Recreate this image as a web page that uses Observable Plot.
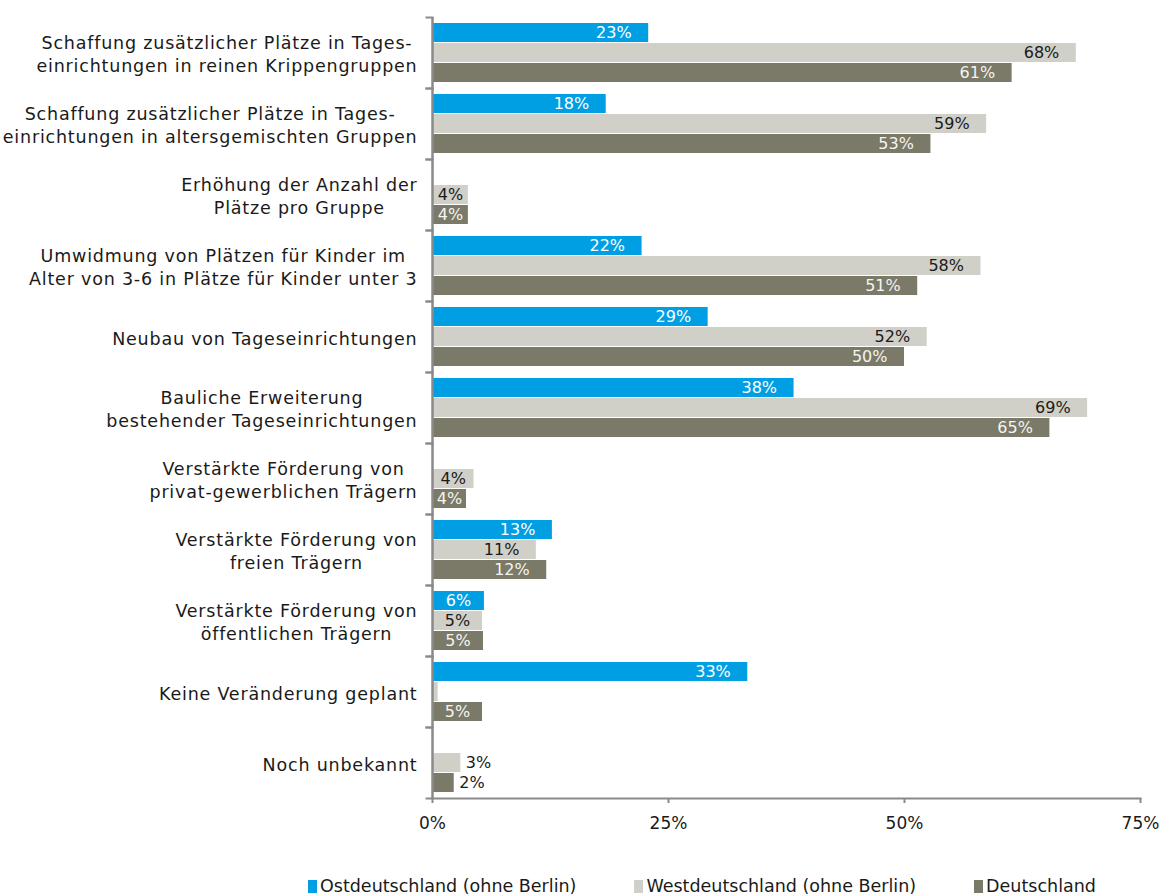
<!DOCTYPE html>
<html>
<head>
<meta charset="utf-8">
<script src="https://cdn.jsdelivr.net/npm/d3@7"></script>
<script src="https://cdn.jsdelivr.net/npm/@observablehq/plot@0.6"></script>
<style>
  body { margin: 0; background: #fff; font-family: "DejaVu Sans", sans-serif; }
  #chart svg g[aria-label^="fy-axis"] text { letter-spacing: 0.8px; }
  .legend { display: flex; gap: 58px; padding-left: 308px; margin-top: 26px; line-height: 20px; font-size: 17.5px; color: #1a1a1a; }
  .legend span.item { display: inline-flex; align-items: center; }
  .legend span.sw { display: inline-block; width: 9px; height: 13px; margin-right: 3px; }
</style>
</head>
<body>
<div id="chart"></div>
<div class="legend" id="legend"></div>
<script>
const categories = [
  "Schaffung zusätzlicher Plätze in Tages-\neinrichtungen in reinen Krippengruppen",
  "Schaffung zusätzlicher Plätze in Tages-\neinrichtungen in altersgemischten Gruppen",
  "Erhöhung der Anzahl der\nPlätze pro Gruppe",
  "Umwidmung von Plätzen für Kinder im\nAlter von 3-6 in Plätze für Kinder unter 3",
  "Neubau von Tageseinrichtungen",
  "Bauliche Erweiterung\nbestehender Tageseinrichtungen",
  "Verstärkte Förderung von\nprivat-gewerblichen Trägern",
  "Verstärkte Förderung von\nfreien Trägern",
  "Verstärkte Förderung von\nöffentlichen Trägern",
  "Keine Veränderung geplant",
  "Noch unbekannt"
];
const series = ["Ostdeutschland (ohne Berlin)", "Westdeutschland (ohne Berlin)", "Deutschland"];
const ost         = [22.9, 18.4, null, 22.2, 29.2, 38.3, null, 12.7, 5.5, 33.4, null];
const west        = [68.2, 58.7, 3.8, 58.1, 52.4, 69.4, 4.4, 11.0, 5.3, 0.6, 3.0];
const deutschland = [61.4, 52.8, 3.8, 51.4, 50.0, 65.4, 3.6, 12.1, 5.4, 5.3, 2.3];
const xTicks = [0, 25, 50, 75];
const colors = ["#009FE3", "#D0D0C8", "#7B7968"];
const labelColors = ["#ffffff", "#1a1a1a", "#f4f4f0"];

const W = 1164, H = 850, ML = 432, MR = 24, MT = 12, MB = 48;
const axisGrey = "#8a8a8a";

const seriesValues = [ost, west, deutschland];
const rows = [];
categories.forEach((c, i) => {
  series.forEach((s, j) => {
    const v = seriesValues[j][i];
    if (v != null) rows.push({category: c, series: s, si: j, value: v});
  });
});
const fmt = d => Math.round(d.value) + "%";
const txtFill = {value: d => labelColors[d.si], scale: null};

const chart = Plot.plot({
  width: W, height: H,
  marginLeft: ML, marginRight: MR, marginTop: MT, marginBottom: MB,
  style: {fontFamily: "DejaVu Sans", fontSize: "16px", color: "#1a1a1a", background: "#fff"},
  x: {domain: [0, 75]},
  y: {domain: series, paddingInner: 0.04, paddingOuter: 0.22, axis: null},
  fy: {domain: categories, padding: 0},
  color: {domain: series, range: colors},
  marks: [
    Plot.barX(rows, {fy: "category", y: "series", x: "value", fill: "series"}),
    Plot.text(rows.filter(d => d.value >= 8), {fy: "category", y: "series", x: "value", text: fmt, dx: -17, textAnchor: "end", fill: txtFill, fontSize: 16}),
    Plot.text(rows.filter(d => d.value >= 3.5 && d.value < 8), {fy: "category", y: "series", x: d => d.value / 2, text: fmt, textAnchor: "middle", fill: txtFill, fontSize: 16}),
    Plot.text(rows.filter(d => d.value >= 1 && d.value < 3.5), {fy: "category", y: "series", x: "value", text: fmt, dx: 5, textAnchor: "start", fill: "#1a1a1a", fontSize: 16}),
    Plot.ruleX([0], {stroke: axisGrey, strokeWidth: 2.5}),
    Plot.frame({anchor: "top", stroke: axisGrey, strokeWidth: 2, insetLeft: -6, insetRight: W - ML - MR}),
    Plot.frame({anchor: "bottom", stroke: axisGrey, strokeWidth: 2, insetLeft: -6, insetRight: W - ML - MR}),
    Plot.frame({anchor: "bottom", stroke: axisGrey, strokeWidth: 2, facetAnchor: "bottom"}),
    Plot.axisX({anchor: "bottom", ticks: xTicks, tickFormat: d => d + "%", tickSize: 5, tickPadding: 13, stroke: axisGrey, strokeWidth: 2, fontSize: 17, label: null, color: "#1a1a1a"}),
    Plot.axisFy({anchor: "left", tickSize: 0, tickPadding: 15, label: null, fontSize: 17.5, lineHeight: 1.34, fill: "#1a1a1a"})
  ]
});
document.getElementById("chart").append(chart);

chart.querySelectorAll('g[aria-label^="fy-axis"] text').forEach(t => {
  const w = t.getBBox().width;
  t.setAttribute("text-anchor", "middle");
  const tr = t.getAttribute("transform") || "";
  t.setAttribute("transform", tr + ` translate(${-w / 2},0)`);
});

const legend = document.getElementById("legend");
series.forEach((s, i) => {
  const item = document.createElement("span");
  item.className = "item";
  const sw = document.createElement("span");
  sw.className = "sw";
  sw.style.background = colors[i];
  item.append(sw, document.createTextNode(s));
  legend.append(item);
});
</script>
</body>
</html>
